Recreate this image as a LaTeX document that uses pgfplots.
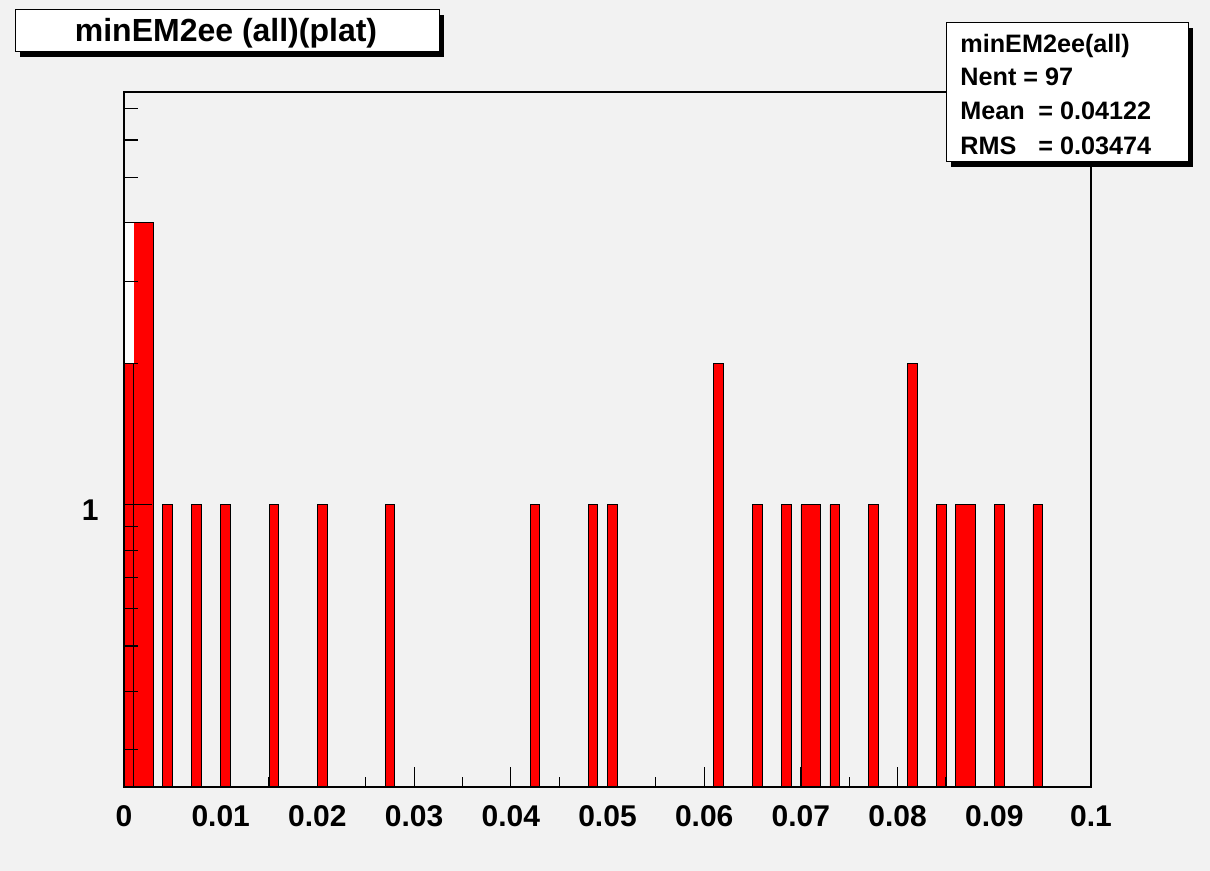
\documentclass[border=0pt]{standalone}
\usepackage{fontspec}
\setmainfont{Liberation Sans}
\usepackage{pgfplots}
\pgfplotsset{compat=1.18}
\definecolor{bg}{HTML}{F2F2F2}
\definecolor{rootred}{HTML}{FF0000}
\begin{document}
\begin{tikzpicture}
\fill[bg] (0,0) rectangle (605pt,435.5pt);
\begin{axis}[
  at={(62pt,42pt)}, anchor=south west,
  scale only axis, width=483.5pt, height=347.5pt,
  xmin=0, xmax=0.1,
  ymode=log, ymin=0.25, ymax=7.6,
  log origin y=infty,
  axis line style={line width=0.8pt},
  tick align=inside,
  xtick pos=bottom, ytick pos=left,
  xtick={0,0.01,0.02,0.03,0.04,0.05,0.06,0.07,0.08,0.09,0.1},
  xticklabels={0,0.01,0.02,0.03,0.04,0.05,0.06,0.07,0.08,0.09,0.1},
  minor xtick={0.005,0.015,0.025,0.035,0.045,0.055,0.065,0.075,0.085,0.095},
  ytick={1}, yticklabels={1},
  minor ytick={0.3,0.4,0.5,0.6,0.7,0.8,0.9,2,3,4,5,6,7},
  xtick style={/pgfplots/major tick length=10pt,/pgfplots/minor tick length=5pt, line width=0.6pt, black},
  ytick style={/pgfplots/major tick length=14pt,/pgfplots/minor tick length=7pt, line width=0.6pt, black},
  /pgf/number format/assume math mode=true,
  ticklabel style={font=\fontsize{15}{18}\selectfont\bfseries},
  xticklabel style={anchor=north, inner sep=0pt, yshift=-9pt},
  yticklabel style={anchor=east, inner sep=0pt, xshift=-12.5pt, yshift=-2.5pt},
  axis on top,
]
% single bins (width 0.001)
\addplot[ybar, bar width=0.001, fill=rootred, draw=black, line width=0.4pt] coordinates {
(0.0005,2)(0.0045,1)(0.0075,1)(0.0105,1)(0.0155,1)(0.0205,1)
(0.0275,1)(0.0425,1)(0.0485,1)(0.0505,1)(0.0615,2)(0.0655,1)(0.0685,1)
(0.0735,1)(0.0775,1)(0.0815,2)(0.0845,1)(0.0905,1)(0.0945,1)};
% pairs of adjacent bins with equal content (drawn merged, as ROOT does)
\addplot[ybar, bar width=0.002, fill=rootred, draw=black, line width=0.4pt] coordinates {
(0.002,4)(0.071,1)(0.087,1)};
\fill[white] (axis cs:0,2) rectangle (axis cs:0.001,4);
\end{axis}
\begin{scope}[x=0.5pt,y=-0.5pt,shift={(0pt,435.5pt)}]
% title box
\fill[black] (20,15) rectangle (444,57);
\filldraw[fill=white, draw=black, line width=0.5pt] (15,10) rectangle (439,52);
\node[font=\fontsize{16}{19}\selectfont\bfseries, anchor=base] at (226,42) {minEM2ee (all)(plat)};
% stats box
\fill[black] (951,28) rectangle (1193,167);
\filldraw[fill=white, draw=black, line width=0.5pt] (946,23) rectangle (1188,162);
\begin{scope}[every node/.style={font=\fontsize{12.6}{15}\selectfont\bfseries, anchor=base west, inner sep=0pt}]
\node at (960,53) {minEM2ee(all)};
\node at (960,86) {Nent = 97};
\node at (960,120) {Mean};
\node at (1038,120) {= 0.04122};
\node at (960,155) {RMS};
\node at (1038,155) {= 0.03474};
\end{scope}
\end{scope}
\end{tikzpicture}
\end{document}
